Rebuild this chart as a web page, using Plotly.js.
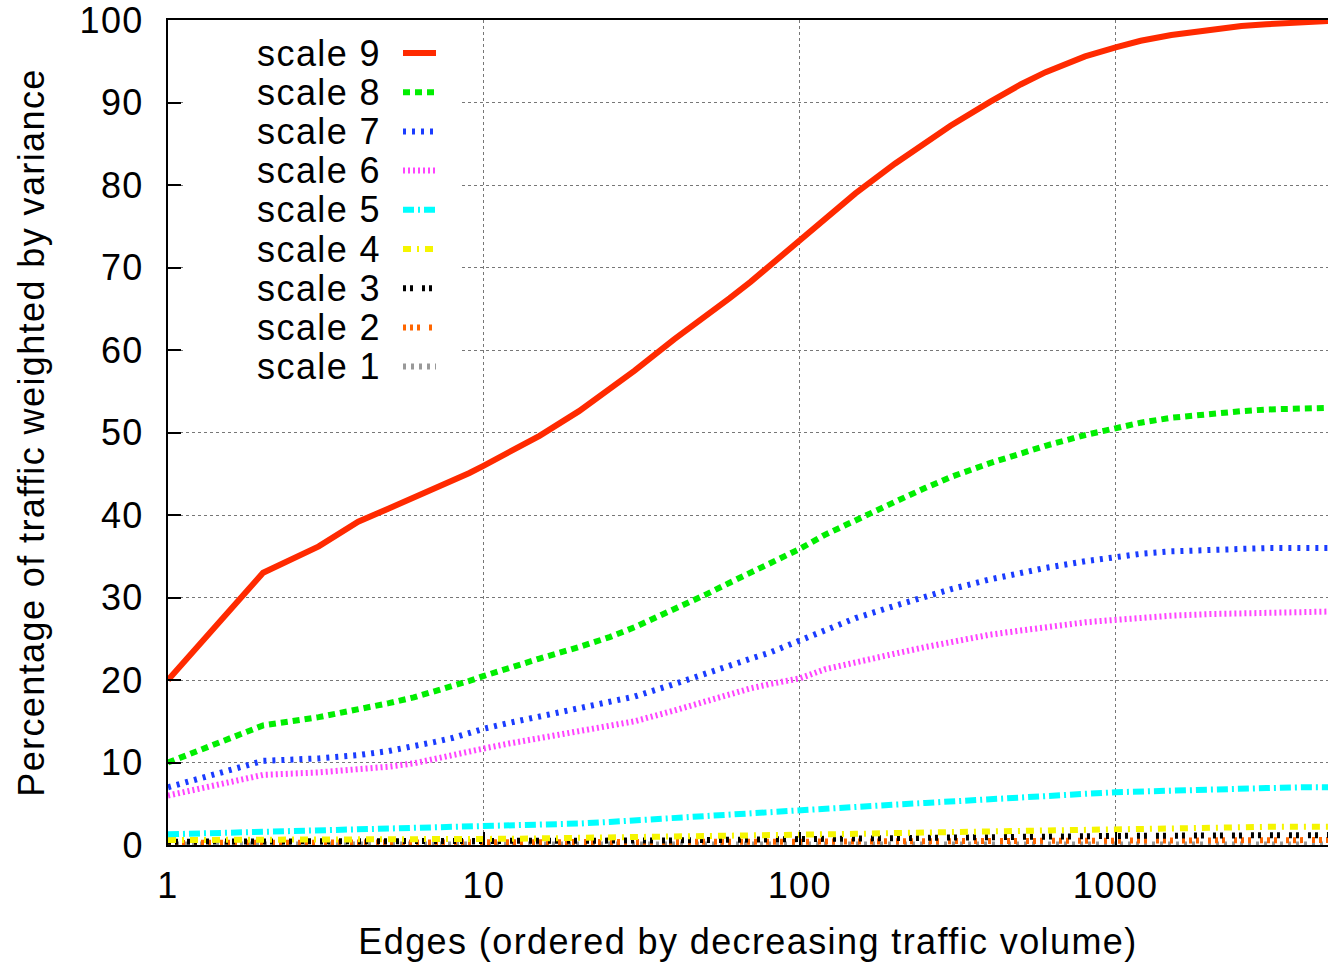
<!DOCTYPE html>
<html>
<head>
<meta charset="utf-8">
<script src="https://cdn.plot.ly/plotly-3.0.1.min.js"></script>
<style>
html,body{margin:0;padding:0;background:#fff;}
#chart{width:1328px;height:964px;}
#chart text{letter-spacing:1.4px;}
</style>
</head>
<body>
<div id="chart"></div>
<script>
// Edge rank (x values, log scale)
const edges = [1,2,3,4,5,6,7,8,9,10,12,15,20,25,30,40,50,60,70,80,100,120,150,200,250,300,400,500,600,800,1000,1200,1500,2000,2500,3000,4000,4700];

const scale9 = [20,33,36.2,39.2,40.8,42.1,43.2,44.2,45.1,46,47.6,49.6,52.6,55.2,57.5,61.3,64,66.3,68.3,70.2,73.4,76,79,82.6,85.2,87.2,90.1,92.2,93.7,95.6,96.7,97.5,98.2,98.9,99.3,99.5,99.8,99.9];
const scale8 = [10,14.5,15.5,16.4,17.2,17.9,18.6,19.3,19.9,20.5,21.5,22.6,24,25.2,26.4,28.5,30.3,31.8,33,34,35.9,37.6,39.4,41.6,43.3,44.6,46.3,47.5,48.4,49.7,50.6,51.2,51.8,52.3,52.6,52.8,52.9,53];
const scale7 = [7,10.2,10.5,10.9,11.4,11.9,12.5,13,13.6,14.1,14.8,15.6,16.5,17.3,18,19.5,20.8,21.8,22.6,23.3,24.8,26.1,27.5,29,30.2,31,32.2,33,33.6,34.4,34.9,35.3,35.6,35.8,35.9,36,36,36];
const scale6 = [6,8.5,8.8,9.1,9.5,9.9,10.4,10.8,11.3,11.7,12.3,13,13.9,14.5,15,16.3,17.4,18.3,19,19.5,20.2,21.3,22.2,23.2,24,24.6,25.5,26,26.4,27,27.3,27.6,27.8,28,28.1,28.2,28.3,28.3];
const scale5 = [1.3,1.6,1.7,1.8,1.9,1.95,2,2.1,2.2,2.3,2.4,2.5,2.6,2.8,3,3.3,3.5,3.7,3.9,4,4.3,4.5,4.7,4.9,5.1,5.3,5.6,5.8,5.95,6.2,6.4,6.5,6.7,6.8,6.85,6.9,7,7];
const scale4 = [0.6,0.6,0.6,0.62,0.64,0.65,0.67,0.68,0.7,0.72,0.75,0.8,0.85,0.88,0.9,0.95,1,1.05,1.1,1.15,1.2,1.28,1.35,1.45,1.52,1.6,1.7,1.75,1.8,1.9,2,2.05,2.1,2.15,2.18,2.2,2.2,2.2];
const scale3 = [0.4,0.4,0.4,0.4,0.4,0.4,0.4,0.4,0.4,0.42,0.44,0.46,0.5,0.5,0.52,0.55,0.6,0.62,0.65,0.68,0.7,0.73,0.76,0.8,0.85,0.9,0.95,1,1.02,1.06,1.1,1.12,1.15,1.18,1.2,1.2,1.2,1.2];
const scale2 = [0.25,0.25,0.25,0.25,0.25,0.25,0.25,0.25,0.25,0.3,0.3,0.3,0.3,0.3,0.3,0.33,0.35,0.35,0.37,0.38,0.4,0.4,0.42,0.45,0.45,0.47,0.5,0.5,0.5,0.52,0.55,0.55,0.56,0.58,0.6,0.6,0.6,0.6];
const scale1 = [0.05,0.05,0.05,0.05,0.05,0.05,0.05,0.05,0.05,0.05,0.05,0.05,0.05,0.05,0.05,0.05,0.05,0.05,0.05,0.05,0.05,0.05,0.05,0.05,0.05,0.05,0.05,0.05,0.05,0.05,0.05,0.05,0.05,0.05,0.05,0.05,0.05,0.05];

const seriesNames = ["scale 9","scale 8","scale 7","scale 6","scale 5","scale 4","scale 3","scale 2","scale 1"];
const seriesValues = [scale9,scale8,scale7,scale6,scale5,scale4,scale3,scale2,scale1];

const yTicks = [0,10,20,30,40,50,60,70,80,90,100];
const xTicks = [1,10,100,1000];
const xTickText = ["1","10","100","1000"];

const styles = [
  {color:"#ff2a00", dash:"solid", width:6},
  {color:"#00ee00", dash:"7px,5px", width:6},
  {color:"#1a3cff", dash:"3px,6px", width:6},
  {color:"#ff44ff", dash:"2px,3px", width:6},
  {color:"#00ffff", dash:"11px,4px,2px,4px", width:6},
  {color:"#f5f500", dash:"8px,6px,2px,6px", width:6},
  {color:"#000000", dash:"3px,4px,3px,9px", width:6},
  {color:"#ff6600", dash:"3px,4px,3px,4px,3px,9px", width:6},
  {color:"#999999", dash:"3px,5px", width:6}
];

// draw low series first so the larger ones sit on top
const traces = [];
for (let i = seriesNames.length - 1; i >= 0; i--) {
  traces.push({
    x: edges, y: seriesValues[i], name: seriesNames[i],
    type: "scatter", mode: "lines",
    line: {color: styles[i].color, dash: styles[i].dash, width: styles[i].width},
    showlegend: false, hoverinfo: "skip"
  });
}

const FONT = "Liberation Sans, Arial, Helvetica, sans-serif";
const plotL = 168, plotR = 1328, plotT = 20, plotB = 845;
const pw = plotR - plotL, ph = plotB - plotT;
const px = v => (v - plotL) / pw;
const py = v => (plotB - v) / ph;

const shapes = [{
  type: "rect", xref: "paper", yref: "paper",
  x0: px(183), x1: px(459), y0: py(390), y1: py(22),
  fillcolor: "#ffffff", line: {width: 0}, layer: "above"
}];
const annotations = [];
seriesNames.forEach((n, i) => {
  const yc = 53 + i * 39.2;
  annotations.push({
    text: n, xref: "paper", yref: "paper", x: px(378), y: py(yc),
    xanchor: "right", yanchor: "middle", showarrow: false,
    font: {family: FONT, size: 36, color: "#000"}
  });
  shapes.push({
    type: "line", xref: "paper", yref: "paper",
    x0: px(403), x1: px(436), y0: py(yc), y1: py(yc),
    line: {color: styles[i].color, dash: styles[i].dash, width: styles[i].width},
    layer: "above"
  });
});

const layout = {
  width: 1328, height: 964,
  margin: {l: plotL, r: 1328 - plotR, t: plotT, b: 964 - plotB},
  paper_bgcolor: "#fff", plot_bgcolor: "#fff",
  font: {family: FONT, size: 36, color: "#000"},
  showlegend: false,
  xaxis: {
    type: "log", range: [0, Math.log10(4700)],
    tickmode: "array", tickvals: xTicks, ticktext: xTickText,
    ticks: "inside", ticklen: 13, tickwidth: 2, tickcolor: "#000",
    showline: true, linecolor: "#000", linewidth: 2, mirror: true,
    showgrid: true, gridcolor: "#777", griddash: "dot", gridwidth: 1,
    zeroline: false, ticklabelstandoff: 8, ticklabeloverflow: "allow",
    tickfont: {family: FONT, size: 36},
    title: {text: "Edges (ordered by decreasing traffic volume)", font: {family: FONT, size: 36}, standoff: 24},
    automargin: false
  },
  yaxis: {
    range: [0, 100.02],
    tickmode: "array", tickvals: yTicks, ticktext: yTicks.map(String),
    ticks: "inside", ticklen: 13, tickwidth: 2, tickcolor: "#000",
    showline: true, linecolor: "#000", linewidth: 2, mirror: false,
    showgrid: true, gridcolor: "#777", griddash: "dot", gridwidth: 1,
    zeroline: false, ticklabelstandoff: 15, ticklabeloverflow: "allow",
    tickfont: {family: FONT, size: 36},
    title: {text: "Percentage of traffic weighted by variance", font: {family: FONT, size: 36}, standoff: 28},
    automargin: false
  },
  shapes: shapes,
  annotations: annotations
};

Plotly.newPlot("chart", traces, layout, {displayModeBar: false, staticPlot: true});
</script>
</body>
</html>
